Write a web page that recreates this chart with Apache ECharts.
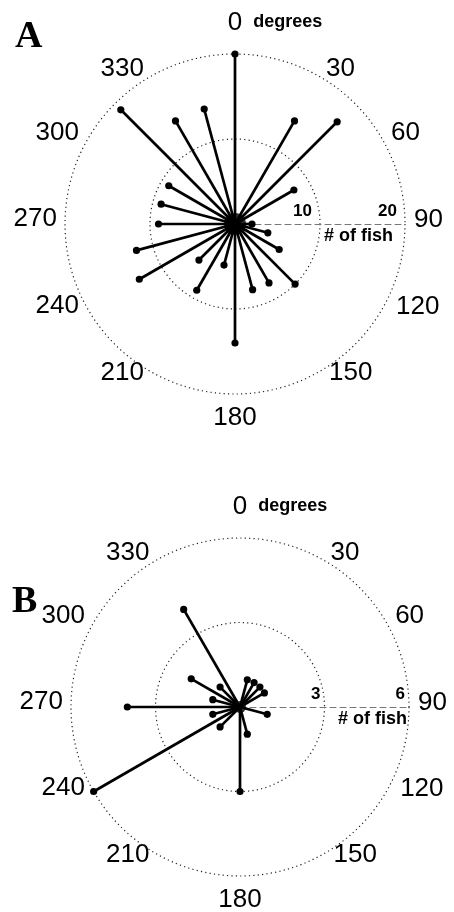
<!DOCTYPE html>
<html>
<head>
<meta charset="utf-8">
<script src="https://cdn.jsdelivr.net/npm/echarts@6/dist/echarts.min.js"></script>
<style>
html,body{margin:0;padding:0;background:#fff;}
#chart{width:454px;height:912px;}
</style>
</head>
<body>
<div id="chart"></div>
<script>
// Direction bins (degrees, compass: 0 = up, clockwise)
const angles = [0,15,30,45,60,75,90,105,120,135,150,165,180,195,210,225,240,255,270,285,300,315,330,345];
// Panel A: number of fish per direction
const fishA = [20,0,14,17,8,0,2,4,6,10,8,8,14,5,9,6,13,12,9,9,9,19,14,14];
// Panel B: number of fish per direction
const fishB = [0,1,1,1,1,0,0,1,0,0,0,1,3,0,0,1,6,1,4,1,2,1,4,0];
// Angle tick labels
const angleTicks = [0,30,60,90,120,150,180,210,240,270,300,330];
const angleTickLabels = ['0','30','60','90','120','150','180','210','240','270','300','330'];
// Radius axis ranges / ticks
const radiusA = {max: 20, step: 10};
const radiusB = {max: 6, step: 3};
const panelLetters = ['A', 'B'];
const radiusName = '# of fish';
const degreesWord = 'degrees';

const FONT = '"Liberation Sans", Arial, Helvetica, sans-serif';

// per-label nudges (padding: top, right, bottom, left) - styling only
const labelPad = {
  30: [0, 0, 24, 9], 60: [0, 0, 17, 14], 90: [0, 0, 9, 15], 120: [0, 0, 1, 19],
  150: [11, 0, 0, 12], 180: [57, 0, 0, 0], 210: [11, 9, 0, 0], 240: [0, 14, 3, 0],
  270: [0, 14, 11, 0], 300: [0, 14, 17, 0], 330: [0, 9, 24, 0]
};

function toAxisAngle(a){ return a < 90 ? a + 360 : a; }

function spokes(values){
  const out = [];
  angles.forEach((a, i) => { if (values[i] > 0) out.push([values[i], toAxisAngle(a)]); });
  return out;
}

function buildRich(){
  const rich = {
    sp: {width: 80, lineHeight: 2},
    z: {fontSize: 26, fontFamily: FONT, color: '#000', lineHeight: 2, padding: [0,0,72,0]},
    d: {fontSize: 18, fontWeight: 'bold', fontFamily: FONT, color: '#000', lineHeight: 2, padding: [0,0,74,11]}
  };
  Object.keys(labelPad).forEach(k => {
    rich['p' + k] = {fontSize: 26, fontFamily: FONT, color: '#000', lineHeight: 2, padding: labelPad[k]};
  });
  return rich;
}

function angleAxis(polarIndex){
  return {
    polarIndex: polarIndex,
    type: 'value', min: 90, max: 450, interval: 30,
    startAngle: 0, clockwise: true,
    axisLine: {show: false},
    axisTick: {show: false},
    splitLine: {show: false},
    axisLabel: {
      margin: -6,
      color: '#000',
      fontFamily: FONT,
      fontSize: 26,
      lineHeight: 2,
      formatter: function(v){
        if (v === 450) return '';
        const deg = v % 360;
        const idx = angleTicks.indexOf(deg);
        const t = idx >= 0 ? angleTickLabels[idx] : String(deg);
        if (deg === 0) return '{sp|}{z|' + t + '}{d|' + degreesWord + '}';
        return '{p' + deg + '|' + t + '}';
      },
      rich: buildRich()
    }
  };
}

function radiusAxis(polarIndex, r, padRight, nameGap){
  return {
    polarIndex: polarIndex,
    type: 'value', min: 0, max: r.max, interval: r.step,
    axisLine: {show: true, lineStyle: {color: '#777', width: 1, type: [6, 4]}},
    axisTick: {show: false},
    splitLine: {show: true, lineStyle: {color: '#222', width: 1.2, type: [1.2, 3.2]}},
    axisLabel: {
      showMinLabel: false,
      align: 'right',
      verticalAlign: 'bottom',
      margin: 4,
      padding: [0, padRight, 0, 0],
      color: '#000', fontFamily: FONT, fontSize: 17, fontWeight: 'bold'
    },
    name: radiusName,
    nameLocation: 'end',
    nameGap: nameGap,
    nameTextStyle: {
      align: 'right', verticalAlign: 'top',
      padding: [3, 0, 0, 0],
      color: '#000', fontFamily: FONT, fontSize: 18, fontWeight: 'bold'
    },
    z: 1
  };
}

function spokeSeries(polarIndex, values){
  return {
    type: 'custom',
    coordinateSystem: 'polar',
    polarIndex: polarIndex,
    data: spokes(values),
    z: 5,
    renderItem: function(params, api){
      const r = api.value(0), a = api.value(1);
      const c = api.coord([0, a]);
      const p = api.coord([r, a]);
      return {type: 'group', children: [
        {type: 'line', shape: {x1: c[0], y1: c[1], x2: p[0], y2: p[1]},
         style: {stroke: '#000', lineWidth: 2.7}},
        {type: 'circle', shape: {cx: p[0], cy: p[1], r: 3.6}, style: {fill: '#000'}}
      ]};
    }
  };
}

function centerSeries(polarIndex, size){
  return {
    type: 'scatter', coordinateSystem: 'polar', polarIndex: polarIndex,
    data: [[0, 90]], symbol: 'circle', symbolSize: size,
    itemStyle: {color: '#000'}, silent: true, z: 6
  };
}

const chart = echarts.init(document.getElementById('chart'), null, {renderer: 'canvas'});
chart.setOption({
  backgroundColor: '#fff',
  animation: false,
  title: [
    {text: panelLetters[0], left: 10, top: 13, padding: 5,
     textStyle: {fontFamily: '"Liberation Serif", "Times New Roman", serif', fontWeight: 'bold', fontSize: 38, color: '#000'}},
    {text: panelLetters[1], left: 7, top: 578, padding: 5,
     textStyle: {fontFamily: '"Liberation Serif", "Times New Roman", serif', fontWeight: 'bold', fontSize: 38, color: '#000'}}
  ],
  polar: [
    {center: [235, 224], radius: 170},
    {center: [240, 707], radius: 169}
  ],
  angleAxis: [angleAxis(0), angleAxis(1)],
  radiusAxis: [radiusAxis(0, radiusA, 8, -12), radiusAxis(1, radiusB, 4, -2)],
  series: [
    spokeSeries(0, fishA),
    centerSeries(0, 22),
    spokeSeries(1, fishB),
    centerSeries(1, 12)
  ]
});
</script>
</body>
</html>
